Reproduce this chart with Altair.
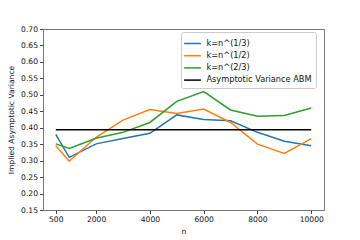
import altair as alt
import pandas as pd

n_vals = [500, 1000, 2000, 3000, 4000, 5000, 6000, 7000, 8000, 9000, 10000]
k13 = [0.380, 0.310, 0.351, 0.367, 0.383, 0.439, 0.425, 0.421, 0.386, 0.359, 0.345]
k12 = [0.345, 0.298, 0.371, 0.423, 0.455, 0.443, 0.457, 0.416, 0.350, 0.322, 0.367]
k23 = [0.351, 0.337, 0.368, 0.386, 0.416, 0.480, 0.510, 0.454, 0.435, 0.437, 0.460]
abm_n = [500, 10000]
abm_v = [0.394, 0.394]

series_names = ["k=n^(1/3)", "k=n^(1/2)", "k=n^(2/3)", "Asymptotic Variance ABM"]
series_colors = ["#1f77b4", "#ff7f0e", "#2ca02c", "#000000"]
x_ticks = [500, 2000, 4000, 6000, 8000, 10000]
y_ticks = [0.15, 0.20, 0.25, 0.30, 0.35, 0.40, 0.45, 0.50, 0.55, 0.60, 0.65, 0.70]

rows = []
for name, vals in zip(series_names[:3], [k13, k12, k23]):
    for i, (n, v) in enumerate(zip(n_vals, vals)):
        rows.append({"n": n, "v": v, "series": name, "order": i})
for i, (n, v) in enumerate(zip(abm_n, abm_v)):
    rows.append({"n": n, "v": v, "series": series_names[3], "order": i})
df = pd.DataFrame(rows)

font = "DejaVu Sans"

chart = alt.Chart(df).mark_line(strokeWidth=1.5).encode(
    x=alt.X("n:Q",
            scale=alt.Scale(domain=[25, 10475], nice=False, zero=False),
            axis=alt.Axis(values=x_ticks, title="n", format="d", grid=False,
                          domain=False, tickSize=3.5, tickColor="#444",
                          labelPadding=2, titlePadding=4, labelFlush=False)),
    y=alt.Y("v:Q",
            scale=alt.Scale(domain=[0.15, 0.70], nice=False, zero=False),
            axis=alt.Axis(values=y_ticks, title="Implied Asymptotic Variance",
                          format=".2f", grid=False, domain=False, tickSize=3.5,
                          tickColor="#444", labelPadding=2, titlePadding=5,
                          labelFlush=False)),
    color=alt.Color("series:N",
                    scale=alt.Scale(domain=series_names, range=series_colors),
                    legend=alt.Legend(title=None, orient="none", legendX=138,
                                      legendY=3, symbolType="M-1.4,0L1.4,0",
                                      symbolSize=144, symbolStrokeWidth=1.5,
                                      strokeColor="#cccccc", fillColor="white",
                                      padding=4.5, cornerRadius=2, rowPadding=1.2,
                                      labelOffset=7,
                                      labelFontSize=8.2, labelFont=font,
                                      labelColor="#111", labelLimit=200)),
    order="order:Q",
    detail="series:N",
).properties(
    width=281, height=181,
    autosize=alt.AutoSizeParams(type="none"),
    padding={"left": 35, "top": 21, "right": 20, "bottom": 30},
).configure_view(
    stroke="#777", strokeWidth=1
).configure_axis(
    labelFont=font, titleFont=font, labelFontSize=7.6, titleFontSize=7.6,
    labelColor="#111", titleColor="#111", titleFontWeight="normal",
)

chart.save("out.html", embed_options={"renderer": "svg", "actions": False})
